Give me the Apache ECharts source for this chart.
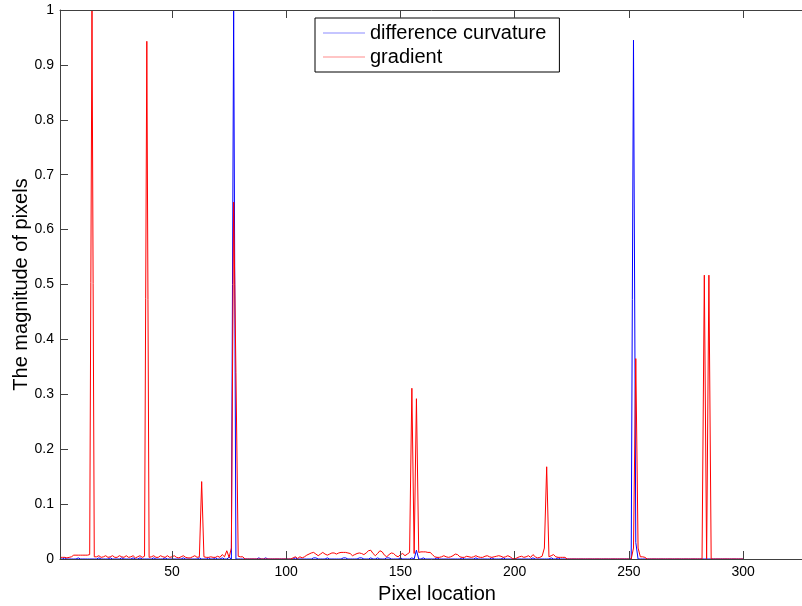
<!DOCTYPE html>
<html>
<head>
<meta charset="utf-8">
<script src="https://cdn.jsdelivr.net/npm/echarts@6/dist/echarts.min.js"></script>
<style>
html,body{margin:0;padding:0;background:#fff;}
#chart{width:802px;height:606px;}
</style>
</head>
<body>
<div id="chart"></div>
<script>
// x positions are 1..N (pixel index)
const xTicks = [50, 100, 150, 200, 250, 300];
const seriesNames = ['difference curvature', 'gradient'];

const curvature = [
  0,0,0.002,0,0,0,0,0,0.002,0,
  0,0,0,0,0,0,0,0.002,0,0,
  0,0,0.002,0,0,0,0,0.002,0,0,
  0,0,0.002,0,0,0.002,0,0,0,0,
  0,0.002,0,0,0,0,0.002,0,0,0,
  0,0,0,0,0.002,0,0,0,0,0,
  0,0.002,0,0,0,0.002,0,0,0.002,0,
  0,0.002,0,0,0.003,0,1.0,0,0,0,
  0,0,0,0,0,0,0,0.002,0,0,
  0.002,0,0,0,0,0,0,0,0,0,
  0,0,0,0.002,0,0,0,0,0,0,
  0,0.002,0.002,0,0,0,0,0.002,0,0,
  0,0,0,0,0.002,0.002,0,0,0,0,
  0,0.002,0.002,0,0,0,0.002,0,0,0.002,
  0,0,0,0.002,0.002,0,0,0,0,0.002,
  0,0,0,0,0.002,0,0.016,0,0,0.002,
  0,0,0,0,0,0.002,0,0,0,0,
  0,0,0,0,0,0,0.002,0,0,0,
  0,0,0.002,0,0,0,0,0,0,0.002,
  0,0,0,0,0.002,0,0,0,0,0,
  0,0,0,0,0,0,0,0.002,0,0,
  0,0,0,0,0,0.002,0,0,0.002,0,
  0,0,0,0,0,0,0,0,0,0,
  0,0,0,0,0,0,0,0,0,0,
  0,0,0,0,0,0,0,0,0,0,
  0,0.945,0.03,0,0,0,0,0,0,0,
  0,0,0,0,0,0,0,0,0,0,
  0,0,0,0,0,0,0,0,0,0,
  0,0,0,0,0,0,0,0,0,0,
  0,0,0,0,0,0,0,0,0,0
];

const gradient = [
  0.003,0.003,0.003,0.002,0.003,0.004,0.007,0.007,0.007,0.007,
  0.007,0.007,0.007,0.008,1.0,0.004,0.004,0.006,0.003,0.004,
  0.006,0.003,0.004,0.006,0.003,0.003,0.006,0.004,0.003,0.006,
  0.003,0.004,0.006,0.002,0.004,0.006,0.003,0.005,0.943,0.003,
  0.004,0.006,0.003,0.003,0.006,0.004,0.003,0.006,0.003,0.004,
  0.006,0.003,0.002,0.004,0.006,0.003,0.002,0.002,0.004,0.006,
  0.003,0.004,0.141,0.004,0.003,0.003,0.004,0.003,0.003,0.005,
  0.003,0.008,0.004,0.015,0.003,0.02,0.65,0.34,0.005,0.004,
  0.004,0,0,0,0,0,0,0,0,0,
  0,0,0,0,0,0,0,0,0,0,
  0,0,0.002,0.004,0.001,0.004,0.002,0.004,0.007,0.009,
  0.011,0.012,0.009,0.006,0.009,0.012,0.009,0.007,0.009,0.011,
  0.011,0.009,0.011,0.012,0.012,0.012,0.011,0.01,0.006,0.008,
  0.01,0.011,0.01,0.008,0.011,0.015,0.016,0.01,0.006,0.01,
  0.015,0.013,0.007,0.004,0.008,0.011,0.01,0.006,0.004,0.008,
  0.01,0.006,0.009,0.012,0.311,0.01,0.292,0.012,0.013,0.013,
  0.013,0.012,0.012,0.008,0.004,0.003,0.003,0.004,0.006,0.004,
  0.003,0.004,0.006,0.009,0.008,0.004,0.003,0.003,0.005,0.004,
  0.003,0.004,0.006,0.004,0.003,0.003,0.005,0.006,0.004,0.003,
  0.004,0.005,0.006,0.005,0.003,0.004,0.006,0.004,0.001,0,
  0.002,0.004,0.005,0.003,0.004,0.006,0.003,0.008,0.004,0.002,
  0.003,0.005,0.02,0.168,0.004,0.006,0.008,0.004,0.003,0.003,
  0.003,0.003,0,0,0,0,0,0,0,0,
  0,0,0,0,0,0,0,0,0,0,
  0,0,0,0,0,0,0,0,0,0,
  0,0.02,0.365,0.02,0.004,0.004,0.003,0,0,0,
  0,0,0,0,0,0,0,0,0,0,
  0,0,0,0,0,0,0,0,0,0,
  0,0,0.517,0,0.517,0,0,0,0,0,
  0,0,0,0,0,0,0,0,0,0
];

const toXY = arr => arr.map((v, i) => [i + 1, v]);
const FONT = "'Liberation Sans', Arial, Helvetica, sans-serif";
const AXC = '#404040';

const chart = echarts.init(document.getElementById('chart'), null, {renderer: 'canvas'});
chart.setOption({
  animation: false,
  backgroundColor: '#fff',
  textStyle: {fontFamily: FONT},
  grid: {left: 60, top: 10, right: -12, bottom: 47, containLabel: false, outerBoundsMode: 'none'},
  xAxis: [{
    type: 'value', min: 1, max: 331, position: 'bottom', z: 10,
    name: 'Pixel location', nameLocation: 'middle', nameGap: 25, nameMoveOverlap: false,
    nameTextStyle: {fontSize: 20, color: '#000', fontFamily: FONT},
    axisLine: {show: true, lineStyle: {color: AXC, width: 1}},
    axisTick: {show: true, inside: true, length: 8, lineStyle: {color: AXC}, customValues: xTicks},
    axisLabel: {show: true, color: '#000', fontSize: 14, margin: 6, fontFamily: FONT, customValues: xTicks},
    splitLine: {show: false}
  }, {
    type: 'value', min: 1, max: 331, position: 'top', z: 10,
    axisLine: {show: true, lineStyle: {color: AXC, width: 1}},
    axisTick: {show: true, inside: true, length: 8, lineStyle: {color: AXC}, customValues: xTicks},
    axisLabel: {show: false, customValues: xTicks},
    splitLine: {show: false}
  }],
  yAxis: [{
    type: 'value', min: 0, max: 1, interval: 0.1, z: 10,
    name: 'The magnitude of pixels', nameLocation: 'middle', nameGap: 29, nameRotate: 90, nameMoveOverlap: false,
    nameTextStyle: {fontSize: 20, color: '#000', fontFamily: FONT},
    axisLine: {show: true, lineStyle: {color: AXC, width: 1}},
    axisTick: {show: true, inside: true, length: 8, lineStyle: {color: AXC}},
    axisLabel: {color: '#000', fontSize: 14, margin: 6, fontFamily: FONT},
    splitLine: {show: false}
  }],
  legend: {
    orient: 'vertical', left: 315, top: 18,
    backgroundColor: '#fff', borderColor: '#000', borderWidth: 1,
    padding: [5, 13, 5, 8], itemGap: 4,
    itemWidth: 42, itemHeight: 1, icon: 'rect',
    textStyle: {fontSize: 20, color: '#000', fontFamily: FONT, padding: [0, 0, 0, 0]},
    data: [
      {name: seriesNames[0], itemStyle: {color: '#8c8cff'}},
      {name: seriesNames[1], itemStyle: {color: '#ff8c8c'}}
    ]
  },
  series: [{
    name: seriesNames[0], type: 'line', data: toXY(curvature),
    showSymbol: false, symbol: 'none', z: 2,
    lineStyle: {color: '#0000ff', width: 1}, itemStyle: {color: '#0000ff'}
  }, {
    name: seriesNames[1], type: 'line', data: toXY(gradient),
    showSymbol: false, symbol: 'none', z: 3,
    lineStyle: {color: '#ff0000', width: 1}, itemStyle: {color: '#ff0000'}
  }]
});
</script>
</body>
</html>
